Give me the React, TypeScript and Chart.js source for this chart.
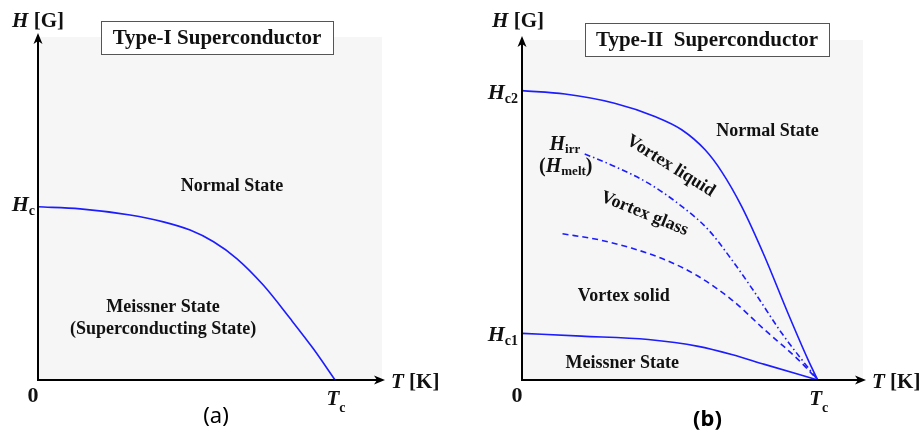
import React, { useEffect, useRef } from "react";
import { Chart, registerables } from "chart.js";

Chart.register(...registerables);

// ---------- Panel (a): Type-I superconductor ----------
const typeI_T = [0, 0.142, 0.31, 0.422, 0.512, 0.591, 0.669, 0.759, 0.849, 0.927, 1];
const typeI_Hc = [5.05, 4.99, 4.81, 4.61, 4.37, 4.03, 3.54, 2.76, 1.79, 0.91, 0];

// ---------- Panel (b): Type-II superconductor ----------
const hc2_T = [0, 0.145, 0.313, 0.449, 0.54, 0.619, 0.675, 0.743, 0.82, 0.899, 0.967, 1];
const hc2_H = [8.51, 8.41, 8.14, 7.75, 7.36, 6.77, 6.13, 5.1, 3.64, 1.97, 0.6, 0];
const hc1_T = [0, 0.201, 0.427, 0.596, 0.709, 0.82, 1];
const hc1_H = [1.37, 1.29, 1.19, 0.99, 0.75, 0.46, 0];
const irr_T = [0.212, 0.314, 0.427, 0.54, 0.63, 0.709, 0.788, 0.878, 1];
const irr_H = [6.65, 6.28, 5.79, 5.11, 4.42, 3.54, 2.56, 1.38, 0];
const glass_T = [0.137, 0.257, 0.37, 0.483, 0.596, 0.709, 0.82, 0.934, 1];
const glass_H = [4.3, 4.13, 3.88, 3.54, 3.05, 2.36, 1.48, 0.6, 0];

const BLUE = "rgb(28,28,255)";
const SERIF = '"Liberation Serif", "Times New Roman", serif';
const SANS = '"Noto Sans", "Open Sans", sans-serif';
const BG = "#f6f6f6";

type Part = { t: string; f: string; dy?: number };

function drawRich(ctx: CanvasRenderingContext2D, parts: Part[], x: number, y: number, align: "left" | "center" | "right") {
  let w = 0;
  for (const p of parts) {
    ctx.font = p.f;
    w += ctx.measureText(p.t).width;
  }
  let cx = align === "left" ? x : align === "center" ? x - w / 2 : x - w;
  ctx.textAlign = "left";
  ctx.textBaseline = "alphabetic";
  for (const p of parts) {
    ctx.font = p.f;
    ctx.fillText(p.t, cx, y + (p.dy || 0));
    cx += ctx.measureText(p.t).width;
  }
}

function centerText(ctx: CanvasRenderingContext2D, t: string, x: number, y: number, font: string, rot = 0) {
  ctx.save();
  ctx.translate(x, y);
  ctx.rotate((rot * Math.PI) / 180);
  ctx.font = font;
  ctx.textAlign = "center";
  ctx.textBaseline = "middle";
  ctx.fillText(t, 0, 0);
  ctx.restore();
}

function arrowHead(ctx: CanvasRenderingContext2D, tx: number, ty: number, dir: "up" | "right") {
  ctx.beginPath();
  if (dir === "up") {
    ctx.moveTo(tx, ty);
    ctx.lineTo(tx + 4.5, ty + 11);
    ctx.lineTo(tx, ty + 8);
    ctx.lineTo(tx - 4.5, ty + 11);
  } else {
    ctx.moveTo(tx, ty);
    ctx.lineTo(tx - 11, ty - 4.5);
    ctx.lineTo(tx - 8, ty);
    ctx.lineTo(tx - 11, ty + 4.5);
  }
  ctx.closePath();
  ctx.fill();
}

const B = (s: number) => `bold ${s}px ${SERIF}`;
const BI = (s: number) => `italic bold ${s}px ${SERIF}`;

type Spec = {
  padding: { left: number; right: number; top: number; bottom: number };
  xMax: number;
  datasets: any[];
  title: string;
  box: [number, number, number, number];
  hOffset: number;
  caption: { t: string; x: number; y: number; font: string };
  decorate: (ctx: CanvasRenderingContext2D, chart: any) => void;
};

function line(T: number[], H: number[], dash: number[] = []) {
  return {
    data: T.map((t, i) => ({ x: t, y: H[i] })),
    showLine: true,
    borderColor: BLUE,
    backgroundColor: BLUE,
    borderWidth: 1.6,
    borderDash: dash,
    pointRadius: 0,
    fill: false,
    cubicInterpolationMode: "monotone",
  };
}

function buildConfig(spec: Spec): any {
  const deco = {
    id: "deco",
    beforeDraw(chart: any) {
      const { ctx, chartArea: a } = chart;
      ctx.save();
      ctx.fillStyle = "#ffffff";
      ctx.fillRect(0, 0, chart.width, chart.height);
      ctx.fillStyle = BG;
      ctx.fillRect(a.left, a.top, a.right - a.left, a.bottom - a.top);
      ctx.restore();
    },
    afterDraw(chart: any) {
      const { ctx, chartArea: a } = chart;
      ctx.save();
      // axes
      ctx.strokeStyle = "#000";
      ctx.fillStyle = "#000";
      ctx.lineWidth = 2;
      const yTip = a.top - 4;
      const xTip = a.right + 3;
      ctx.beginPath();
      ctx.moveTo(a.left, a.bottom);
      ctx.lineTo(a.left, yTip + 4);
      ctx.moveTo(a.left - 1, a.bottom);
      ctx.lineTo(xTip - 4, a.bottom);
      ctx.stroke();
      arrowHead(ctx, a.left, yTip, "up");
      arrowHead(ctx, xTip, a.bottom, "right");

      // title box
      const [bx, by, bw, bh] = spec.box;
      ctx.fillStyle = "#fff";
      ctx.fillRect(bx, by, bw, bh);
      ctx.strokeStyle = "#555";
      ctx.lineWidth = 1;
      ctx.strokeRect(bx + 0.5, by + 0.5, bw, bh);
      ctx.fillStyle = "#111";
      centerText(ctx, spec.title, bx + bw / 2, by + bh / 2 + 1, B(21));

      // axis titles
      drawRich(ctx, [{ t: "H", f: BI(21) }, { t: " [G]", f: B(21) }], a.left + spec.hOffset, 27, "center");
      drawRich(ctx, [{ t: "T", f: BI(21) }, { t: " [K]", f: B(21) }], xTip + 6, a.bottom + 8, "left");

      // origin and Tc
      const xs = chart.scales.x;
      ctx.font = B(22);
      ctx.textAlign = "center";
      ctx.textBaseline = "alphabetic";
      ctx.fillText("0", a.left - 5, a.bottom + 22);
      drawRich(ctx, [{ t: "T", f: BI(21) }, { t: "c", f: B(14), dy: 7 }], xs.getPixelForValue(1) + 1, a.bottom + 25, "center");

      spec.decorate(ctx, chart);

      // caption
      ctx.fillStyle = "#000";
      centerText(ctx, spec.caption.t, spec.caption.x, spec.caption.y, spec.caption.font);
      ctx.restore();
    },
  };
  return {
    type: "scatter",
    data: { datasets: spec.datasets },
    options: {
      animation: false,
      responsive: false,
      events: [],
      layout: { padding: spec.padding },
      plugins: { legend: { display: false }, tooltip: { enabled: false }, title: { display: false } },
      scales: {
        x: { type: "linear", min: 0, max: spec.xMax, display: false },
        y: { type: "linear", min: 0, max: 10, display: false },
      },
    },
    plugins: [deco],
  };
}

const specA: Spec = {
  padding: { left: 38, right: 78, top: 37, bottom: 57 },
  xMax: 1.158,
  datasets: [line(typeI_T, typeI_Hc)],
  title: "Type-I Superconductor",
  box: [101, 21, 232, 33],
  hOffset: 0,
  caption: { t: "(a)", x: 216, y: 417, font: `22px ${SANS}` },
  decorate(ctx, chart) {
    const xs = chart.scales.x, ys = chart.scales.y, a = chart.chartArea;
    ctx.fillStyle = "#111";
    centerText(ctx, "Normal State", xs.getPixelForValue(0.653), ys.getPixelForValue(5.66), B(18));
    centerText(ctx, "Meissner State", xs.getPixelForValue(0.421), ys.getPixelForValue(2.12), B(18));
    centerText(ctx, "(Superconducting State)", xs.getPixelForValue(0.421), ys.getPixelForValue(1.48), B(18));
    drawRich(ctx, [{ t: "H", f: BI(22) }, { t: "c", f: B(14), dy: 4 }], a.left - 3, ys.getPixelForValue(typeI_Hc[0]) + 4, "right");
  },
};

const specB: Spec = {
  padding: { left: 62, right: 57, top: 40, bottom: 57 },
  xMax: 1.153,
  datasets: [line(hc2_T, hc2_H), line(hc1_T, hc1_H), line(irr_T, irr_H, [6, 3, 1.5, 3]), line(glass_T, glass_H, [6, 4])],
  title: "Type-II  Superconductor",
  box: [125, 23, 244, 33],
  hOffset: -4,
  caption: { t: "(b)", x: 247.5, y: 420, font: `bold 22px ${SANS}` },
  decorate(ctx, chart) {
    const xs = chart.scales.x, ys = chart.scales.y, a = chart.chartArea;
    const P = (t: number, h: number): [number, number] => [xs.getPixelForValue(t), ys.getPixelForValue(h)];
    ctx.fillStyle = "#111";
    centerText(ctx, "Normal State", ...P(0.83, 7.31), B(18));
    centerText(ctx, "Vortex liquid", ...P(0.503, 6.29), B(18), 32);
    centerText(ctx, "Vortex glass", ...P(0.414, 4.89), B(18), 22);
    centerText(ctx, "Vortex solid", ...P(0.344, 2.45), B(18));
    centerText(ctx, "Meissner State", ...P(0.339, 0.5), B(18));
    const [hx, hy] = P(0.145, 6.76);
    drawRich(ctx, [{ t: "H", f: BI(20) }, { t: "irr", f: B(13), dy: 3 }], hx, hy, "center");
    const [mx, my] = P(0.148, 6.12);
    drawRich(
      ctx,
      [{ t: "(", f: B(20) }, { t: "H", f: BI(20) }, { t: "melt", f: B(13), dy: 3 }, { t: ")", f: B(20) }],
      mx,
      my,
      "center"
    );
    drawRich(ctx, [{ t: "H", f: BI(22) }, { t: "c2", f: B(14), dy: 4 }], a.left - 4, ys.getPixelForValue(hc2_H[0]) + 8, "right");
    drawRich(ctx, [{ t: "H", f: BI(22) }, { t: "c1", f: B(14), dy: 4 }], a.left - 4, ys.getPixelForValue(hc1_H[0]) + 8, "right");
  },
};

function Panel({ spec, left }: { spec: Spec; left: number }) {
  const ref = useRef<HTMLCanvasElement>(null);
  useEffect(() => {
    const chart = new Chart(ref.current as HTMLCanvasElement, buildConfig(spec));
    return () => chart.destroy();
  }, []);
  return (
    <canvas
      ref={ref}
      width={460}
      height={437}
      style={{ position: "absolute", left, top: 0, width: 460, height: 437, display: "block" }}
    />
  );
}

export default function App() {
  return (
    <div style={{ position: "absolute", left: 0, top: 0, width: 920, height: 437, background: "#fff", overflow: "hidden" }}>
      <Panel spec={specA} left={0} />
      <Panel spec={specB} left={460} />
    </div>
  );
}
